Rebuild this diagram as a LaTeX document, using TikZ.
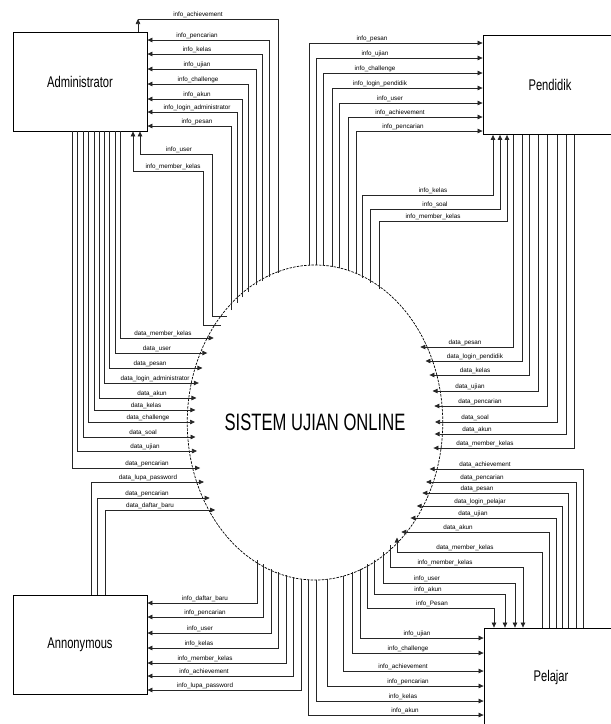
\documentclass[tikz,border=0pt]{standalone}
\usepackage{fontspec}
\setmainfont{Liberation Sans}
\usepackage{graphicx}
\usetikzlibrary{arrows.meta,shapes.geometric}
\begin{document}
\begin{tikzpicture}[x=1pt,y=-1pt,
  declare function={
    eyt(\q)=422.5-157.5*sqrt(1-((\q-315)/120)*((\q-315)/120));
    eyb(\q)=422.5+157.5*sqrt(1-((\q-315)/120)*((\q-315)/120));
    exl(\q)=315-120*sqrt(1-((\q-422.5)/157.5)*((\q-422.5)/157.5));
    exr(\q)=315+120*sqrt(1-((\q-422.5)/157.5)*((\q-422.5)/157.5));
  },
  ln/.style={line width=0.7pt,draw=black!85},
  flow/.style={ln,-{Triangle[length=5pt,width=4.5pt]}},
  lbl/.style={font=\fontsize{6.3}{7}\selectfont,inner sep=0pt,anchor=base},
  box/.style={draw,line width=0.8pt,minimum width=134pt,minimum height=99pt,inner sep=0pt,
    font=\fontsize{15.5}{18}\selectfont},
]
\useasboundingbox (0,0) rectangle (611,724);
\clip (0,0) rectangle (611,724);

% entities
\node[box] (adm) at (80,81.5) {\scalebox{0.72}[1]{Administrator}};
\node[box] (pen) at (550,85) {\scalebox{0.72}[1]{Pendidik}};
\node[box] (ann) at (80,644.5) {\scalebox{0.72}[1]{Annonymous}};
\node[box] (pel) at (551,677.5) {\scalebox{0.72}[1]{Pelajar}};

% process
\node[ellipse,draw,line width=0.7pt,dash pattern=on 2.5pt off 1.2pt,
  minimum width=240pt,minimum height=315pt,inner sep=0pt,outer sep=0pt,
  font=\fontsize{23.7}{26}\selectfont] (sys) at (315,422.5) {\scalebox{0.7}[1]{SISTEM UJIAN ONLINE}};

% ---------- Administrator: info flows in on the east side
\draw[ln] ({278},{eyt(278)}) |- (138,19);
\draw[flow] (adm.north -| 138,0) -- (138,19);
\node[lbl] at (198,16.2) {info\_achievement};
\foreach \xv/\yh/\lab/\lx in {
  269/40/info\_pencarian/197,
  262/54/info\_kelas/197,
  256/69/info\_ujian/197,
  248/84/info\_challenge/198,
  242/99/info\_akun/197,
  237/112/info\_login\_administrator/197,
  231/126/info\_pesan/197}{
  \draw[flow] ({\xv},{eyt(\xv)}) |- (adm.east |- 0,\yh);
  \node[lbl] at (\lx,\yh-2.8) {\lab};
}
% Administrator: info flows in at the bottom
\draw[flow] ({exl(316)},316) -| (212,154) -| (adm.south -| 140,0);
\node[lbl] at (179,151.2) {info\_user};
\draw[flow] ({exl(325)},325) -| (203,171) -| (adm.south -| 133,0);
\node[lbl] at (173,168.2) {info\_member\_kelas};
% Administrator: data flows out
\foreach \xv/\yh/\lab/\lx in {
  120/338/data\_member\_kelas/163,
  115/353/data\_user/157,
  109/368/data\_pesan/150,
  104/383/data\_login\_administrator/155,
  99/398/data\_akun/152,
  94/410/data\_kelas/146,
  88/422/data\_challenge/148,
  83/437/data\_soal/143,
  77/451/data\_ujian/145,
  72/468/data\_pencarian/147}{
  \draw[flow] (adm.south -| \xv,0) |- ({exl(\yh)},\yh);
  \node[lbl] at (\lx,\yh-2.8) {\lab};
}

% ---------- Annonymous
\foreach \xv/\yh/\lab/\lx in {
  91/482/data\_lupa\_password/148,
  97/498/data\_pencarian/147,
  105/510/data\_daftar\_baru/150}{
  \draw[flow] (ann.north -| \xv,0) |- ({exl(\yh)},\yh);
  \node[lbl] at (\lx,\yh-2.8) {\lab};
}
\foreach \xv/\yh/\lab/\lx in {
  257/603/info\_daftar\_baru/205,
  263/617/info\_pencarian/205,
  271/633/info\_user/200,
  278/648/info\_kelas/199,
  286/663/info\_member\_kelas/205,
  293/676/info\_achievement/204,
  301/690/info\_lupa\_password/205}{
  \draw[flow] ({\xv},{eyb(\xv)}) |- (ann.east |- 0,\yh);
  \node[lbl] at (\lx,\yh-2.8) {\lab};
}

% ---------- Pendidik
\foreach \xv/\yh/\lab/\lx in {
  309/43/info\_pesan/372,
  316/58/info\_ujian/375,
  323/73/info\_challenge/375,
  332/88/info\_login\_pendidik/380,
  339/103/info\_user/390,
  348/117/info\_achievement/400,
  356/131/info\_pencarian/403}{
  \draw[flow] ({\xv},{eyt(\xv)}) |- (pen.west |- 0,\yh);
  \node[lbl] at (\lx,\yh-2.8) {\lab};
}
\foreach \xv/\yh/\xt/\lab/\lx in {
  362/195/493/info\_kelas/433,
  370/209/500/info\_soal/435,
  379/221/507/info\_member\_kelas/433}{
  \draw[flow] ({\xv},{eyt(\xv)}) |- (\xt,\yh) -- (pen.south -| \xt,0);
  \node[lbl] at (\lx,\yh-2.8) {\lab};
}
\foreach \xv/\yh/\lab/\lx in {
  513/347/data\_pesan/465,
  522/361/data\_login\_pendidik/475,
  529/375/data\_kelas/475,
  538/391/data\_ujian/470,
  547/406/data\_pencarian/480,
  557/422/data\_soal/475,
  566/434/data\_akun/477,
  574/448/data\_member\_kelas/485}{
  \draw[flow] (pen.south -| \xv,0) |- ({exr(\yh)},\yh);
  \node[lbl] at (\lx,\yh-2.8) {\lab};
}

% ---------- Pelajar
\foreach \xv/\yh/\lab/\lx in {
  583/469/data\_achievement/485,
  576/482/data\_pencarian/482,
  568/493/data\_pesan/477,
  562/506/data\_login\_pelajar/480,
  556/518/data\_ujian/473,
  549/532/data\_akun/458}{
  \draw[flow] (pel.north -| \xv,0) |- ({exr(\yh)},\yh);
  \node[lbl] at (\lx,\yh-2.8) {\lab};
}
\draw[flow] (pel.north -| 542,0) |- (397,552) -- ({397},{eyb(397)});
\node[lbl] at (465,549.2) {data\_member\_kelas};
\foreach \xv/\yh/\xt/\lab/\lx in {
  390/567/523/info\_member\_kelas/445,
  383/583/515/info\_user/427,
  374/594/505/info\_akun/428,
  367/608/494/info\_Pesan/432}{
  \draw[flow] ({\xv},{eyb(\xv)}) |- (\xt,\yh) -- (pel.north -| \xt,0);
  \node[lbl] at (\lx,\yh-2.8) {\lab};
}
\foreach \xv/\yh/\lab/\lx in {
  360/638/info\_ujian/417,
  352/653/info\_challenge/408,
  343/671/info\_achievement/403,
  327/686/info\_pencarian/408,
  316/701/info\_kelas/403,
  308/715/info\_akun/405}{
  \draw[flow] ({\xv},{eyb(\xv)}) |- (pel.west |- 0,\yh);
  \node[lbl] at (\lx,\yh-2.8) {\lab};
}
\end{tikzpicture}
\end{document}
